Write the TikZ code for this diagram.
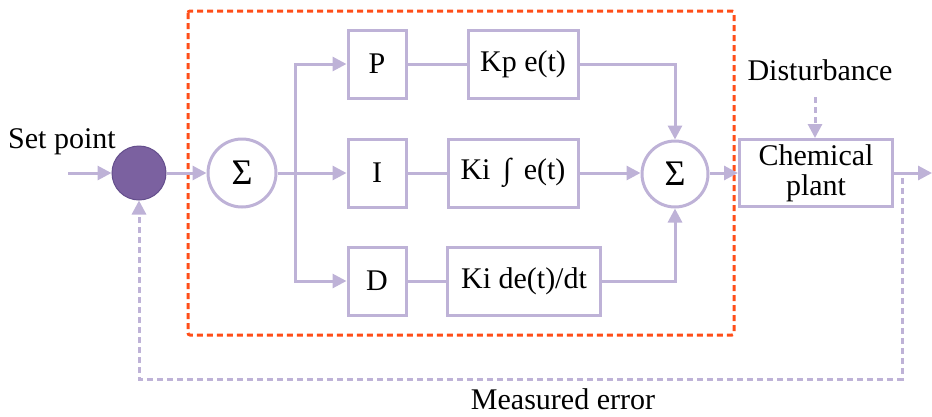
\documentclass[tikz,border=0pt]{standalone}
\usepackage{fontspec}
\setmainfont{Liberation Serif}
\newfontfamily\plantfont{Liberation Serif}
\usetikzlibrary{arrows.meta,positioning}
\definecolor{pid-line}{RGB}{190,178,215}
\definecolor{pid-fill}{RGB}{123,97,160}
\definecolor{pid-edge}{RGB}{100,78,140}
\definecolor{pid-red}{RGB}{255,78,25}
\tikzstyle{block}=[draw=pid-line, line width=3pt, fill=white, inner sep=0pt, minimum height=68pt]
\tikzstyle{sumnode}=[circle, draw=pid-line, line width=3pt, fill=white, inner sep=0pt, minimum size=66pt]
\tikzstyle{flow}=[draw=pid-line, line width=3pt, -{Triangle[length=14pt,width=14pt]}]
\tikzstyle{wire}=[draw=pid-line, line width=3pt]
\tikzstyle{feedback}=[draw=pid-line, line width=3pt, dash pattern=on 6pt off 4pt]
\tikzstyle{label}=[inner sep=0pt, anchor=base]

\begin{document}
\begin{tikzpicture}[x=1pt, y=-1pt, font=\plantfont\fontsize{30}{30}\selectfont]
	\useasboundingbox (0,0) rectangle (932,416);
	% controller frame
	\draw[pid-red, line width=3pt, dash pattern=on 6pt off 4pt, rounded corners=2pt] (188,11) rectangle (734,335);
	% nodes
	\node[circle, draw=pid-edge, line width=1pt, fill=pid-fill, minimum size=54pt, inner sep=0pt] (cmp) at (139,173) {};
	\node[sumnode, minimum size=68pt] (sumA) at (242,173) {\fontsize{36}{36}\selectfont Σ};
	\node[block, minimum width=58pt] (P) at (377,64) {P};
	\node[block, minimum width=58pt] (I) at (377,173) {I};
	\node[block, minimum width=58pt] (D) at (377,281) {D};
	\node[block, minimum width=110pt] (kp) at (523,64) {Kp e(t)};
	\node[block, minimum width=130pt] (ki) at (513,173) {Ki \,∫\, e(t)};
	\node[block, minimum width=153pt] (kd) at (524,281) {Ki de(t)/dt};
	\node[sumnode] (sumB) at (675,174) {\fontsize{36}{36}\selectfont Σ};
	\node[block, minimum width=153pt, minimum height=67pt, align=center] (plant) at (816,173) {Chemical\\plant};
	% texts
	\node[label] (sp) at (62,148) {Set point};
	\node[label] (dist) at (820,80) {Disturbance};
	\node[label] (merr) at (563,409) {Measured error};
	% helper points
	\coordinate (spin) at (68,173);
	\coordinate (branch) at (295,173);
	\coordinate (out) at (932,173);
	\coordinate (fbtop) at (902,178);
	\coordinate (fbbot) at (902,379);
	\coordinate (disttop) at (815,97);
	% connectors
	\draw[flow] (spin) -- (cmp);
	\draw[flow] (cmp) -- (sumA);
	\draw[wire] (sumA) -- (branch);
	\draw[flow] (branch) |- (P);
	\draw[flow] (branch) -- (I);
	\draw[flow] (branch) |- (D);
	\draw[wire] (P) -- (kp);
	\draw[wire] (I) -- (ki);
	\draw[wire] (D) -- (kd);
	\draw[flow] (kp) -| (sumB);
	\draw[flow] (ki) -- (sumB.west |- ki.east);
	\draw[flow] (kd) -| (sumB);
	\draw[flow] (sumB.east |- plant.west) -- (plant);
	\draw[flow] (plant) -- (out);
	\draw[feedback, -{Triangle[length=14pt,width=14pt]}] (disttop) -- (disttop |- plant.north);
	\draw[feedback, -{Triangle[length=14pt,width=14pt]}] (fbtop) -- (fbbot) -| (cmp);
\end{tikzpicture}
\end{document}
